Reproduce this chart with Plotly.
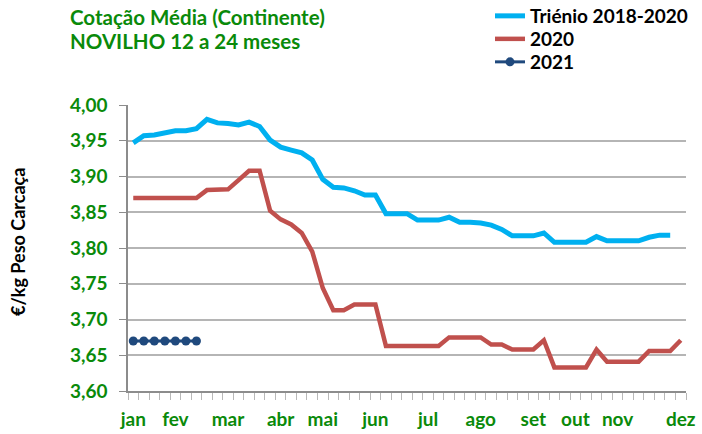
import plotly.graph_objects as go

# ---- data ----
trienio = [3.947, 3.957, 3.958, 3.961, 3.964, 3.964, 3.967, 3.980, 3.975, 3.974,
           3.972, 3.976, 3.970, 3.951, 3.941, 3.937, 3.933, 3.923, 3.896, 3.885,
           3.884, 3.880, 3.874, 3.874, 3.848, 3.848, 3.848, 3.839, 3.839, 3.839,
           3.843, 3.836, 3.836, 3.835, 3.832, 3.826, 3.817, 3.817, 3.817, 3.821,
           3.808, 3.808, 3.808, 3.808, 3.816, 3.810, 3.810, 3.810, 3.810, 3.815,
           3.818, 3.818]
y2020 = [3.870, 3.870, 3.870, 3.870, 3.870, 3.870, 3.870, 3.881, 3.882, 3.882,
         3.895, 3.908, 3.908, 3.852, 3.840, 3.833, 3.821, 3.795, 3.744, 3.713,
         3.713, 3.721, 3.721, 3.721, 3.663, 3.663, 3.663, 3.663, 3.663, 3.663,
         3.675, 3.675, 3.675, 3.675, 3.665, 3.665, 3.658, 3.658, 3.658, 3.671,
         3.633, 3.633, 3.633, 3.633, 3.658, 3.641, 3.641, 3.641, 3.641, 3.656,
         3.656, 3.656, 3.671]
y2021 = [3.670, 3.670, 3.670, 3.670, 3.670, 3.670, 3.670]

n_weeks = 53
month_labels = ["jan", "fev", "mar", "abr", "mai", "jun", "jul", "ago", "set", "out", "nov", "dez"]
month_weeks = [1, 5, 10, 15, 19, 24, 29, 34, 39, 43, 47, 53]
y_ticks = [3.60, 3.65, 3.70, 3.75, 3.80, 3.85, 3.90, 3.95, 4.00]

series_names = ["Triénio 2018-2020", "2020", "2021"]
title_lines = ["Cotação Média (Continente)", "NOVILHO 12 a 24 meses"]
y_title = "€/kg Peso Carcaça"

# ---- styles ----
GREEN = "#0a8a0a"
FONT = "Lato"
L, R, T, B = 128, 16, 105, 43
W, H = 702, 434
PW, PH = W - L - R, H - T - B


def px_x(x):
    return (x - L) / PW


def px_y(y):
    return (H - B - y) / PH


def weeks(vals):
    return list(range(1, len(vals) + 1))


fig = go.Figure()
fig.add_trace(go.Scatter(x=weeks(trienio), y=trienio, mode="lines", name=series_names[0],
                         line=dict(color="#00b0f0", width=5), legend="legend"))
fig.add_trace(go.Scatter(x=weeks(y2020), y=y2020, mode="lines", name=series_names[1],
                         line=dict(color="#c0504d", width=4.5), legend="legend2"))
fig.add_trace(go.Scatter(x=weeks(y2021), y=y2021, mode="lines+markers", name=series_names[2],
                         line=dict(color="#1f497d", width=3),
                         marker=dict(symbol="circle", size=9, color="#1f497d"),
                         legend="legend3"))

leg_font = dict(family=FONT, size=19, color="black", weight="bold")
def leg(ycenter):
    return dict(x=px_x(490), y=px_y(ycenter), xanchor="left", yanchor="middle",
                font=leg_font, bgcolor="rgba(0,0,0,0)", itemwidth=30,
                borderwidth=0)

fig.update_layout(
    width=W, height=H,
    margin=dict(l=L, r=R, t=T, b=B, autoexpand=False),
    paper_bgcolor="white", plot_bgcolor="white",
    separators=",.",
    font=dict(family=FONT, size=19, color="black"),
    showlegend=True,
    legend=leg(16), legend2=leg(39), legend3=leg(62),
    annotations=[
        dict(text=title_lines[0], xref="paper", yref="paper", x=px_x(68), y=px_y(17),
             xanchor="left", yanchor="middle", showarrow=False,
             font=dict(family=FONT, size=20.5, color=GREEN, weight="bold")),
        dict(text=title_lines[1], xref="paper", yref="paper", x=px_x(68), y=px_y(41),
             xanchor="left", yanchor="middle", showarrow=False,
             font=dict(family=FONT, size=20.5, color=GREEN, weight="bold")),
        dict(text=y_title, textangle=-90,
             xref="paper", yref="paper", x=px_x(18), y=px_y(242),
             xanchor="center", yanchor="middle", showarrow=False,
             font=dict(family=FONT, size=18, color="black", weight="bold")),
    ],
)

fig.update_xaxes(
    range=[0.5, n_weeks + 0.5],
    tickmode="array", tickvals=month_weeks, ticktext=month_labels,
    ticks="", showgrid=False,
    showline=True, linecolor="#8c8c8c", linewidth=1.5,
    tickfont=dict(family=FONT, size=19, color=GREEN, weight="bold"),
    ticklabelstandoff=10,
    minor=dict(ticks="outside", ticklen=7, tickcolor="#b8b8b8", tickwidth=1.2,
               tickmode="linear", tick0=0.5, dtick=1, showgrid=False),
    zeroline=False,
)
fig.update_yaxes(
    range=[3.60, 4.00],
    tickmode="array", tickvals=y_ticks, tickformat=".2f",
    ticks="outside", ticklen=7, tickcolor="#8c8c8c",
    showgrid=True, gridcolor="#b5b5b5", gridwidth=1.5,
    showline=True, linecolor="#8c8c8c", linewidth=1.5,
    tickfont=dict(family=FONT, size=19, color=GREEN, weight="bold"),
    ticklabelstandoff=8,
    zeroline=False,
)

fig.write_html("out.html",
               config={"displayModeBar": False},
               post_script="document.body.style.margin='0';document.body.style.overflow='hidden';")
